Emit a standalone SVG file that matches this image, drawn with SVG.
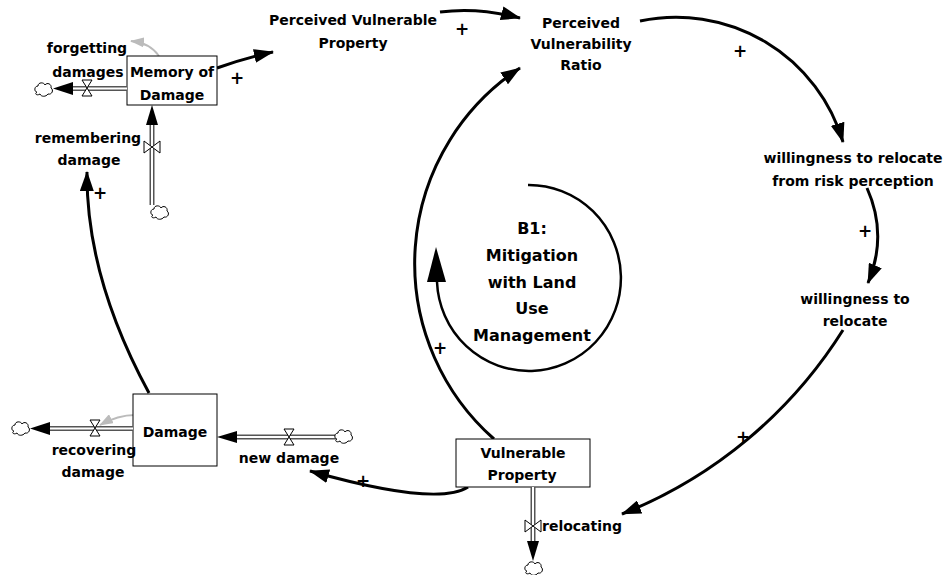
<svg xmlns="http://www.w3.org/2000/svg" width="947" height="575" viewBox="0 0 947 575">
<style>
text{font-family:"DejaVu Sans","Liberation Sans",sans-serif;font-weight:bold;font-size:14px;fill:#000;text-anchor:middle}
.big{font-size:16px}
.plus{font-size:17px}
.box{fill:#fff;stroke:#000;stroke-width:1}
.link{fill:none;stroke:#000;stroke-width:3;marker-end:url(#ah)}
.info{fill:none;stroke:#bbb;stroke-width:1.8;marker-end:url(#gh)}
.pipeo{fill:none;stroke:#555;stroke-width:5}
.pipei{fill:none;stroke:#fff;stroke-width:2}
.valve{fill:#fff;stroke:#000;stroke-width:1}
.head{fill:#000}
.cloud{fill:#fff;stroke:#000;stroke-width:1}
</style>
<defs>
<marker id="ah" viewBox="0 0 20 14" refX="19" refY="7" markerWidth="20" markerHeight="14" orient="auto" markerUnits="userSpaceOnUse"><path d="M0,0 L20,7 L0,14 z" fill="#000"/></marker>
<marker id="gh" viewBox="0 0 14 10" refX="13" refY="5" markerWidth="14" markerHeight="10" orient="auto" markerUnits="userSpaceOnUse"><path d="M0,0 L14,5 L0,10 z" fill="#bbb"/></marker>
<path id="cl" d="M3,10 C0,10 0,4 4,4 C4,0 10,0 11,3 C13,0 18,2 17,6 C20,8 18,13 14,12 C12,15 7,15 6,12 C3,14 0,12 3,10 Z"/>
</defs>

<g id="connectors">
<path class="link" d="M217,68 Q245,58 273,52"/>
<path class="link" d="M440,12 Q478,7 520,18"/>
<path class="link" d="M640,21 A174,174 0 0 1 843,142"/>
<path class="link" d="M867,188 Q888,235 868,283"/>
<path class="link" d="M843,330 A463,463 0 0 1 622,514"/>
<path class="link" d="M494,439 A234,234 0 0 1 520,68"/>
<path class="link" d="M468,487 Q437,507 310,471"/>
<path class="link" d="M149,393 Q86,277 87,172"/>
<path class="info" d="M159,56 Q150,43 131,41"/>
<path class="info" d="M135,415 Q118,415 100,425"/>
<text class="plus" x="237" y="84">+</text>
<text class="plus" x="462" y="35">+</text>
<text class="plus" x="740" y="57">+</text>
<text class="plus" x="865" y="237">+</text>
<text class="plus" x="743" y="443">+</text>
<text class="plus" x="440" y="354">+</text>
<text class="plus" x="363" y="487">+</text>
<text class="plus" x="100" y="199">+</text>
</g>

<g id="loop-B1">
<path d="M528,185 A92,93 0 1 1 437,282" fill="none" stroke="#000" stroke-width="2.5"/>
<polygon points="436,247 446,282 427,282" fill="#000"/>
<text class="big" x="532" y="234">B1:</text>
<text class="big" x="532" y="261">Mitigation</text>
<text class="big" x="532" y="288">with Land</text>
<text class="big" x="532" y="314">Use</text>
<text class="big" x="532" y="341">Management</text>
</g>

<g id="memory-of-damage">
<rect class="box" x="127" y="56" width="90" height="49"/>
<text x="172" y="77">Memory of</text>
<text x="172" y="100">Damage</text>
</g>

<g id="forgetting-damages">
<path class="pipeo" d="M70,88.5 H127"/>
<path class="pipei" d="M70,88.5 H127"/>
<polygon class="head" points="53,88.5 73,82 73,95"/>
<polygon class="valve" points="82,80 92,80 82,96 92,96"/>
<use href="#cl" class="cloud" x="34" y="82"/>
<text x="87" y="53">forgetting</text>
<text x="88" y="77">damages</text>
</g>

<g id="remembering-damage">
<path class="pipeo" d="M152,205 V122"/>
<path class="pipei" d="M152,205 V122"/>
<polygon class="head" points="152,105 146,125 158,125"/>
<polygon class="valve" points="144,141 144,153 160,141 160,153"/>
<use href="#cl" class="cloud" x="150" y="205"/>
<text x="88" y="143">remembering</text>
<text x="89" y="165">damage</text>
</g>

<g id="perceived-vulnerable-property">
<text x="353" y="25">Perceived Vulnerable</text>
<text x="353" y="48">Property</text>
</g>

<g id="perceived-vulnerability-ratio">
<text x="581" y="28">Perceived</text>
<text x="581" y="49">Vulnerability</text>
<text x="581" y="70">Ratio</text>
</g>

<g id="willingness-risk">
<text x="853" y="163">willingness to relocate</text>
<text x="853" y="186">from risk perception</text>
</g>

<g id="willingness-to-relocate">
<text x="855" y="304">willingness to</text>
<text x="855" y="326">relocate</text>
</g>

<g id="damage">
<rect class="box" x="133" y="394" width="84" height="72"/>
<text x="175" y="437">Damage</text>
</g>

<g id="recovering-damage">
<path class="pipeo" d="M47,428.5 H133"/>
<path class="pipei" d="M47,428.5 H133"/>
<polygon class="head" points="30,428.5 50,422 50,435"/>
<polygon class="valve" points="90,420 100,420 90,436 100,436"/>
<use href="#cl" class="cloud" x="11" y="421"/>
<text x="94" y="455">recovering</text>
<text x="93" y="477">damage</text>
</g>

<g id="new-damage">
<path class="pipeo" d="M234,437 H336"/>
<path class="pipei" d="M234,437 H336"/>
<polygon class="head" points="217,437 237,431 237,443"/>
<polygon class="valve" points="284,429 294,429 284,445 294,445"/>
<use href="#cl" class="cloud" x="334" y="429"/>
<text x="289" y="463">new damage</text>
</g>

<g id="vulnerable-property">
<rect class="box" x="456" y="439" width="134" height="48"/>
<text x="523" y="458">Vulnerable</text>
<text x="522" y="480">Property</text>
</g>

<g id="relocating">
<path class="pipeo" d="M533,487 V545"/>
<path class="pipei" d="M533,487 V545"/>
<polygon class="head" points="533,561 527,541 539,541"/>
<polygon class="valve" points="525,520 525,532 541,520 541,532"/>
<use href="#cl" class="cloud" x="524" y="561"/>
<text x="542" y="531" style="text-anchor:start">relocating</text>
</g>
</svg>
